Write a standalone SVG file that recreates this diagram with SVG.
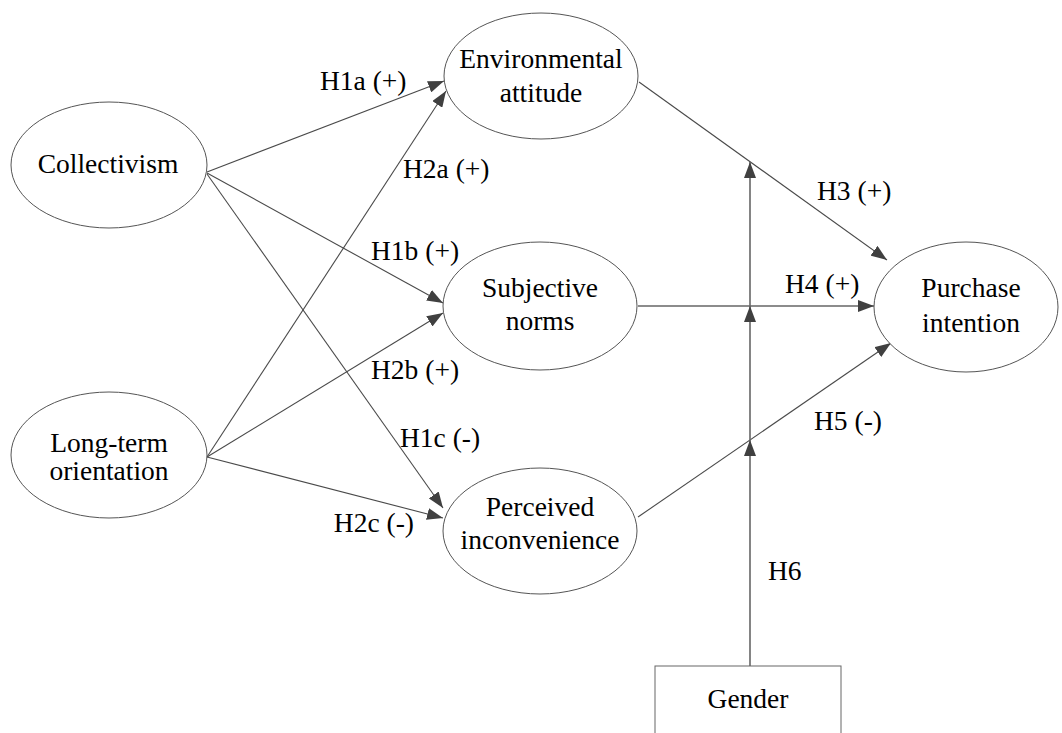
<svg xmlns="http://www.w3.org/2000/svg" width="1062" height="733" viewBox="0 0 1062 733">
<style>
.node{fill:#fff;stroke:#555;stroke-width:1}
.t{font-family:"Liberation Serif","Times New Roman",serif;font-size:27.5px;fill:#000;text-anchor:middle}
.lbl{font-family:"Liberation Serif","Times New Roman",serif;font-size:27.5px;fill:#000}
.c{stroke:#4a4a4a;stroke-width:1.1;fill:none}
.v{stroke:#666;stroke-width:1.6;fill:none}
</style>
<defs>
<marker id="ah" markerUnits="userSpaceOnUse" markerWidth="16" markerHeight="12" refX="16" refY="6" orient="auto">
<path d="M0,0 L16,6 L0,12 z" fill="#404040"/>
</marker>
</defs>
<rect width="1062" height="733" fill="#fff"/>
<g id="connectors">
<line class="c" x1="207" y1="172" x2="444" y2="81" marker-end="url(#ah)"/>
<line class="c" x1="207" y1="173" x2="443" y2="303" marker-end="url(#ah)"/>
<line class="c" x1="207" y1="174" x2="443" y2="508" marker-end="url(#ah)"/>
<line class="c" x1="207" y1="457" x2="446" y2="91" marker-end="url(#ah)"/>
<line class="c" x1="207" y1="457" x2="443" y2="313" marker-end="url(#ah)"/>
<line class="c" x1="207" y1="457" x2="443" y2="518" marker-end="url(#ah)"/>
<line class="c" x1="639" y1="82" x2="887" y2="260" marker-end="url(#ah)"/>
<line class="v" x1="638" y1="306" x2="874" y2="306" marker-end="url(#ah)"/>
<line class="c" x1="638" y1="517" x2="891" y2="343" marker-end="url(#ah)"/>
<line class="v" x1="750" y1="666" x2="750" y2="440" marker-end="url(#ah)"/>
<line class="v" x1="750" y1="440" x2="750" y2="306" marker-end="url(#ah)"/>
<line class="v" x1="750" y1="306" x2="750" y2="162" marker-end="url(#ah)"/>
</g>
<g id="labels">
<text class="lbl" x="320" y="90">H1a (+)</text>
<text class="lbl" x="403" y="178">H2a (+)</text>
<text class="lbl" x="371" y="260">H1b (+)</text>
<text class="lbl" x="371" y="379">H2b (+)</text>
<text class="lbl" x="400" y="447">H1c (-)</text>
<text class="lbl" x="414" y="532" text-anchor="end">H2c (-)</text>
<text class="lbl" x="817" y="200">H3 (+)</text>
<text class="lbl" x="785" y="293">H4 (+)</text>
<text class="lbl" x="814" y="430">H5 (-)</text>
<text class="lbl" x="768" y="580">H6</text>
</g>
<g id="collectivism">
<ellipse class="node" cx="109" cy="165" rx="98" ry="63"/>
<text class="t" x="108" y="173">Collectivism</text>
</g>
<g id="long-term-orientation">
<ellipse class="node" cx="109" cy="455" rx="98" ry="63"/>
<text class="t" x="109" y="452">Long-term</text>
<text class="t" x="109" y="480">orientation</text>
</g>
<g id="environmental-attitude">
<ellipse class="node" cx="541" cy="76" rx="97" ry="63"/>
<text class="t" x="541" y="68">Environmental</text>
<text class="t" x="541" y="102">attitude</text>
</g>
<g id="subjective-norms">
<ellipse class="node" cx="540" cy="306" rx="97" ry="64"/>
<text class="t" x="540" y="297">Subjective</text>
<text class="t" x="540" y="330">norms</text>
</g>
<g id="perceived-inconvenience">
<ellipse class="node" cx="540" cy="531" rx="97" ry="63"/>
<text class="t" x="540" y="516">Perceived</text>
<text class="t" x="540" y="549">inconvenience</text>
</g>
<g id="purchase-intention">
<ellipse class="node" cx="966" cy="307" rx="92" ry="65"/>
<text class="t" x="971" y="297">Purchase</text>
<text class="t" x="971" y="332">intention</text>
</g>
<g id="gender">
<rect class="node" x="655" y="666" width="186" height="90" style="stroke:#666"/>
<text class="t" x="748" y="708">Gender</text>
</g>
</svg>
